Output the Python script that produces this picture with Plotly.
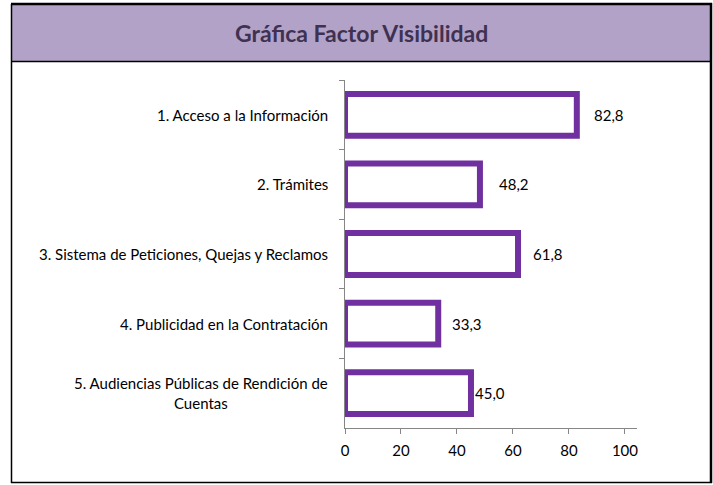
import plotly.graph_objects as go

categories = [
    "1. Acceso a la Información",
    "2. Trámites",
    "3. Sistema de Peticiones, Quejas y Reclamos",
    "4. Publicidad en la Contratación",
    "5. Audiencias Públicas de Rendición de<br>Cuentas",
]
values = [82.8, 48.2, 61.8, 33.3, 45.0]
x_ticks = [0, 20, 40, 60, 80, 100]
title_text = "Gráfica Factor Visibilidad"

# label offsets (pixels) after the bar end, as placed in the reference
label_shift = [12, 14, 10, 9, -1]

W, H = 713, 485
L, R, T, B = 345, 637, 80, 428
FONT = "Lato"

def px(x):
    return (x - L) / (R - L)

def py(y):
    return (B - y) / (B - T)

fig = go.Figure()
fig.add_trace(go.Bar(
    y=categories, x=values, orientation="h",
    marker=dict(color="white", line=dict(color="#7030a0", width=6)),
    width=0.6,
    hoverinfo="skip",
))

shapes = [
    dict(type="rect", xref="paper", yref="paper", x0=px(11), x1=px(711), y0=py(61.5), y1=py(4),
         fillcolor="#b3a2c7", line=dict(width=0), layer="below"),
    dict(type="line", xref="paper", yref="paper", x0=px(11.5), x1=px(11.5), y0=py(483), y1=py(4),
         line=dict(color="#000000", width=1.5)),
    dict(type="line", xref="paper", yref="paper", x0=px(711), x1=px(711), y0=py(483), y1=py(3),
         line=dict(color="#000000", width=2.5)),
    dict(type="line", xref="paper", yref="paper", x0=px(11), x1=px(712), y0=py(4), y1=py(4),
         line=dict(color="#000000", width=2.5)),
    dict(type="line", xref="paper", yref="paper", x0=px(11), x1=px(712), y0=py(482.5), y1=py(482.5),
         line=dict(color="#000000", width=1.5)),
    dict(type="line", xref="paper", yref="paper", x0=px(11), x1=px(711), y0=py(61.5), y1=py(61.5),
         line=dict(color="#000000", width=1.3)),
]

annotations = [dict(text="<b>" + title_text + "</b>", xref="paper", yref="paper",
                    x=px(361), y=py(33), xanchor="center", yanchor="middle", showarrow=False,
                    font=dict(family=FONT, size=23, color="#3f3151"))]
for c, v, s in zip(categories, values, label_shift):
    annotations.append(dict(text=f"{v:.1f}".replace(".", ","), x=v, y=c, xref="x", yref="y",
                            xanchor="left", yanchor="middle", xshift=s + 3, showarrow=False,
                            font=dict(family=FONT, size=15, color="#000000")))
    annotations.append(dict(text=c, x=0, y=c, xref="paper", yref="y", xanchor="right",
                            yanchor="middle", xshift=-15, align="center", showarrow=False,
                            font=dict(family=FONT, size=15, color="#000000")))

fig.update_layout(
    width=W, height=H,
    margin=dict(l=L, r=W - R, t=T, b=H - B),
    paper_bgcolor="white", plot_bgcolor="white",
    separators=",.",
    showlegend=False,
    shapes=shapes,
    annotations=annotations,
    font=dict(family=FONT, size=15, color="#000000"),
)
fig.update_xaxes(range=[0, 104.3], tickvals=x_ticks, ticks="outside", ticklen=5,
                 tickcolor="#868686", showline=True, linecolor="#868686", linewidth=1,
                 showgrid=False, zeroline=False, ticklabelstandoff=4,
                 tickfont=dict(family=FONT, size=15, color="#000000"))
fig.update_yaxes(categoryorder="array", categoryarray=categories, autorange="reversed",
                 ticks="outside", ticklen=5, tickson="boundaries", tickcolor="#868686",
                 showline=True, linecolor="#868686", linewidth=1, showgrid=False,
                 showticklabels=False)

fig.write_html("out.html", config={"displayModeBar": False},
               post_script="document.body.style.margin='0';")
